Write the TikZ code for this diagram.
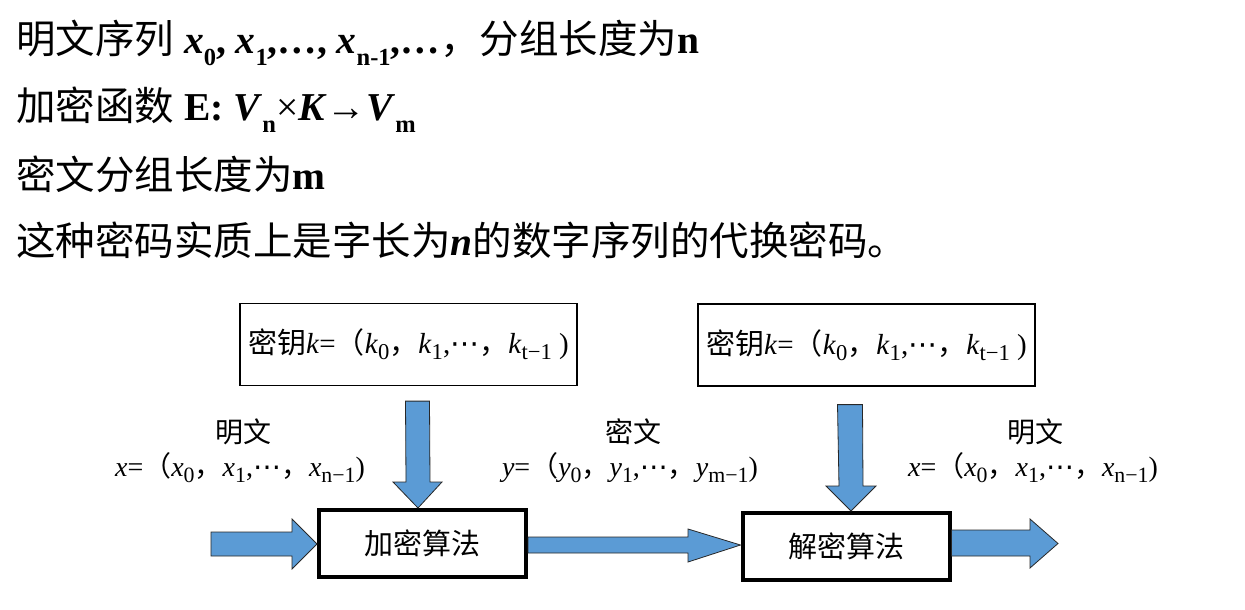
\documentclass[tikz,border=0pt]{standalone}
\usepackage{fontspec}
\setmainfont{Liberation Serif}
\newfontfamily\cjk{Noto Sans CJK SC}
\newfontfamily\dvs{DejaVu Sans}
\usetikzlibrary{calc}
\definecolor{arrowblue}{RGB}{91,155,213}
\definecolor{arrowedge}{RGB}{40,40,40}
\newcommand\sbs[1]{\raisebox{-0.28em}{\scalebox{0.62}{#1}}}
\newcommand\sbd[1]{\raisebox{-0.22em}{\scalebox{0.78}{#1}}}
\newcommand\cdotsx{{\dvs ⋯}}
\begin{document}
\begin{tikzpicture}[x=1pt,y=-1pt,
  topline/.style={anchor=base west,inner sep=0pt,font=\fontsize{39.5}{41}\selectfont},
  keybox/.style={draw=black,line width=1.2pt,minimum width=337pt,minimum height=82pt,inner sep=0pt,font=\fontsize{29}{31}\selectfont},
  algbox/.style={draw=black,line width=4pt,minimum width=207pt,minimum height=67pt,inner sep=0pt,font=\fontsize{29}{31}\selectfont},
  lab/.style={inner sep=0pt,font=\fontsize{28}{30}\selectfont},
  blockarrow/.style={fill=arrowblue,draw=arrowedge,line width=0.8pt,line join=miter}
]
\useasboundingbox (0,0) rectangle (1245,610);
% top text
\node[topline] (t1) at (16,54) {{\cjk 明文序列} \textbf{\textit{x}\sbs{0}, \textit{x}\sbs{1},…, \textit{x}\sbs{n-1},…}{\cjk ，分组长度为}\textbf{n}};
\node[topline] (t2) at (16,121) {{\cjk 加密函数} \textbf{E: \textit{V}\sbs{n}}×\textbf{\textit{K}→\textit{V}\sbs{m}}};
\node[topline] (t3) at (16,189) {{\cjk 密文分组长度为}\textbf{m}};
\node[topline] (t4) at (16,255) {{\cjk 这种密码实质上是字长为}\textbf{\textit{n}}{\cjk 的数字序列的代换密码。}};
% key boxes
\node[keybox] (key1) at (408.5,344.5) {{\cjk 密钥}\textit{k}={\cjk （}\textit{k}\sbd{0}{\cjk ，}\textit{k}\sbd{1},\cdotsx{\cjk ，}\textit{k}\sbd{t−1}\ )};
\node[keybox] (key2) at (866.5,345) {{\cjk 密钥}\textit{k}={\cjk （}\textit{k}\sbd{0}{\cjk ，}\textit{k}\sbd{1},\cdotsx{\cjk ，}\textit{k}\sbd{t−1}\ )};
% algorithm boxes
\node[algbox] (enc) at (422.5,543.5) {\cjk 加密算法};
\node[algbox] (dec) at (846,546.5) {\cjk 解密算法};
% labels
\node[lab] (p1) at (243,432) {\cjk 明文};
\node[lab] (p1f) at (240,468) {\textit{x}={\cjk （}\textit{x}\sbd{0}{\cjk ，}\textit{x}\sbd{1},\cdotsx{\cjk ，}\textit{x}\sbd{n−1})};
\node[lab] (c1) at (633,432) {\cjk 密文};
\node[lab] (c1f) at (630,468) {\textit{y}={\cjk （}\textit{y}\sbd{0}{\cjk ，}\textit{y}\sbd{1},\cdotsx{\cjk ，}\textit{y}\sbd{m−1})};
\node[lab] (p2) at (1035,432) {\cjk 明文};
\node[lab] (p2f) at (1033,468) {\textit{x}={\cjk （}\textit{x}\sbd{0}{\cjk ，}\textit{x}\sbd{1},\cdotsx{\cjk ，}\textit{x}\sbd{n−1})};
% arrow anchor points
\coordinate (intip) at (enc.west |- 0,544);
\coordinate (k1tip) at (418,0 |- enc.north);
\coordinate (k2tip) at (851,0 |- dec.north);
\coordinate (midtip) at (dec.west |- 0,545);
\coordinate (outtail) at (dec.east |- 0,543);
% input arrow
\draw[blockarrow] (intip) -- ++(-25,-25) -- ++(0,13) -- ++(-81,0) -- ++(0,24) -- ++(81,0) -- ++(0,13) -- cycle;
% key arrows
\draw[blockarrow] (k1tip) -- ++(-25,-26) -- ++(13,0) -- ($(key1.south)+(-3,15)$) -- ++(24,0) -- ($(k1tip)+(12,-26)$) -- ++(12,0) -- cycle;
\draw[blockarrow] (k2tip) -- ++(-25,-25) -- ++(13,0) -- ($(key2.south)+(-29,18)$) -- ++(25,0) -- ($(k2tip)+(12,-25)$) -- ++(13,0) -- cycle;
% middle arrow
\draw[blockarrow] (enc.east |- 0,537) -- (688,537) -- (688,529) -- (midtip) -- (688,562) -- (688,553) -- (enc.east |- 0,553) -- cycle;
% output arrow
\draw[blockarrow] (outtail) ++(0,-13) -- (1030,530) -- (1030,519) -- (1058,543.5) -- (1030,568) -- (1030,556) -- ($(outtail)+(0,13)$) -- cycle;
\end{tikzpicture}
\end{document}
